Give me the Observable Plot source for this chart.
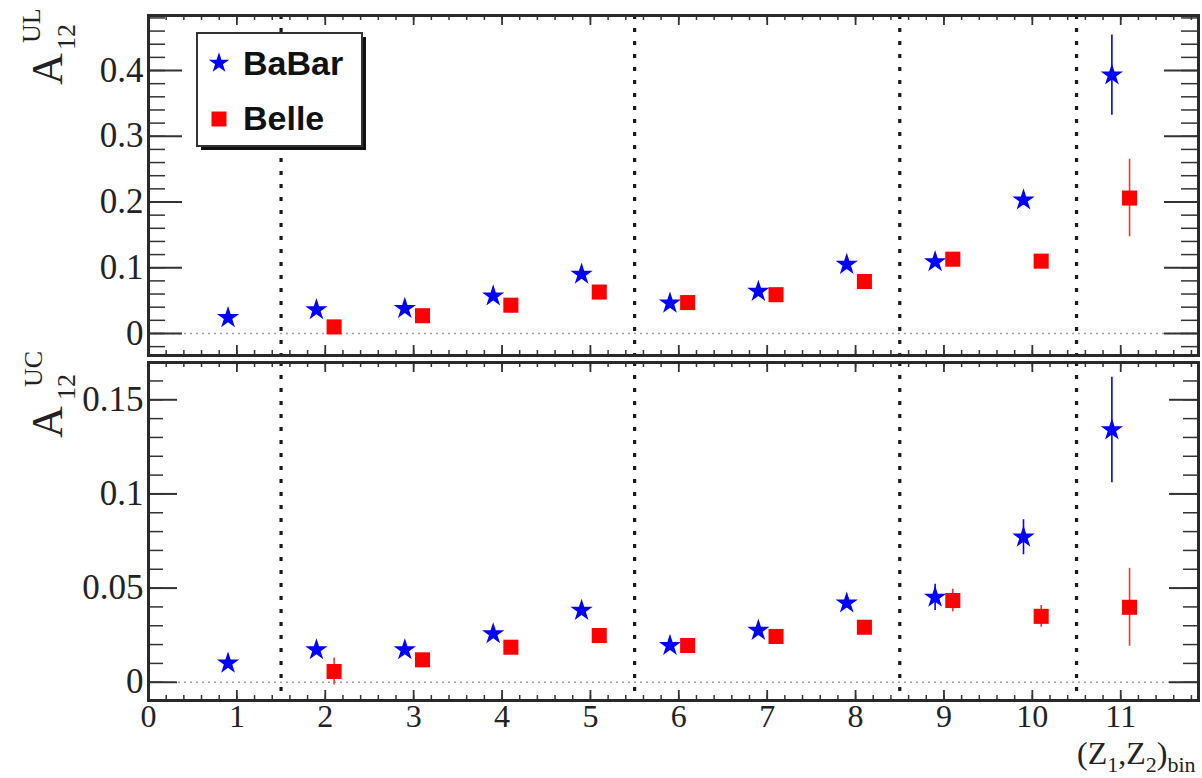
<!DOCTYPE html>
<html><head><meta charset="utf-8">
<script src="https://cdn.jsdelivr.net/npm/d3@7"></script>
<script src="https://cdn.jsdelivr.net/npm/@observablehq/plot@0.6"></script>
<style>
html,body{margin:0;padding:0;background:#fff;}
#chart{position:relative;width:1202px;height:778px;overflow:hidden;background:#fff;}
#chart > svg{position:absolute;left:0;}
</style></head>
<body><div id="chart"></div>
<script>
// ---- data ----
const bins = [1, 2, 3, 4, 5, 6, 7, 8, 9, 10, 11];
const babarUL    = [0.024, 0.036, 0.038, 0.057, 0.090, 0.046, 0.064, 0.105, 0.109, 0.203, 0.393];
const babarULerr = [0.003, 0.003, 0.003, 0.003, 0.004, 0.003, 0.003, 0.004, 0.005, 0.008, 0.061];
const belleUL    = [null, 0.010, 0.027, 0.043, 0.063, 0.047, 0.059, 0.079, 0.113, 0.110, 0.206];
const belleULerr = [null, 0.008, 0.004, 0.004, 0.004, 0.004, 0.004, 0.005, 0.008, 0.008, 0.059];
const babarUC    = [0.0101, 0.0172, 0.0172, 0.0257, 0.0381, 0.0195, 0.0275, 0.0420, 0.0451, 0.0770, 0.1340];
const babarUCerr = [0.0015, 0.0020, 0.0020, 0.0020, 0.0025, 0.0020, 0.0020, 0.0025, 0.0070, 0.0093, 0.0280];
const belleUC    = [null, 0.0057, 0.0119, 0.0186, 0.0248, 0.0195, 0.0243, 0.0292, 0.0434, 0.0350, 0.0398];
const belleUCerr = [null, 0.0072, 0.0020, 0.0020, 0.0020, 0.0020, 0.0020, 0.0020, 0.0060, 0.0058, 0.0207];
const separators = [1.5, 5.5, 8.5, 10.5];
const xTickLabels = [0, 1, 2, 3, 4, 5, 6, 7, 8, 9, 10, 11];
const yTickLabelsUL = [0, 0.1, 0.2, 0.3, 0.4];
const yTickLabelsUC = [0, 0.05, 0.1, 0.15];
const seriesNames = ["BaBar", "Belle"];

// ---- layout ----
const W = 1202, ML = 148, MR = 4;
const xDomain = [0, 11.88];
const xMinor = d3.range(0, 11.81, 0.2);
const chart = document.getElementById("chart");

function panel(cfg) {
  const innerW = W - ML - MR;
  const innerH = cfg.height - cfg.marginTop - cfg.marginBottom;
  const bab = bins.map((b, i) => ({x: b - 0.1, y: cfg.babar[i], e: cfg.babarErr[i]}));
  const bel = bins.map((b, i) => ({x: b + 0.1, y: cfg.belle[i], e: cfg.belleErr[i]})).filter(d => d.y != null);
  const tc = "#333";
  const marks = [
    Plot.ruleY([0], {stroke: "#a0a0a0", strokeWidth: 1.5, strokeDasharray: "2,4"}),
    Plot.ruleX(separators, {stroke: "#1a1a1a", strokeWidth: 3.2, strokeDasharray: "4,9"}),
    Plot.ruleX(bab, {x: "x", y1: d => d.y - d.e, y2: d => d.y + d.e, stroke: "#0000ff", strokeWidth: 1.6}),
    Plot.ruleX(bel, {x: "x", y1: d => d.y - d.e, y2: d => d.y + d.e, stroke: "#ff3030", strokeWidth: 1.6}),
    Plot.dot(bab, {x: "x", y: "y", symbol: "star", r: 7, fill: "#0000ff"}),
    Plot.dot(bel, {x: "x", y: "y", symbol: "square", r: 8.5, fill: "#ff0000"}),
    Plot.ruleY(cfg.yMinor, {y: d => d, insetRight: innerW - cfg.minorLen, stroke: tc, strokeWidth: 1.5}),
    Plot.ruleY(cfg.yLabels, {y: d => d, insetRight: innerW - cfg.majorLen, stroke: tc, strokeWidth: 2}),
    Plot.ruleY(cfg.yMinor, {y: d => d, insetLeft: innerW - cfg.minorLen, stroke: tc, strokeWidth: 1.5}),
    Plot.ruleY(cfg.yLabels, {y: d => d, insetLeft: innerW - cfg.majorLen, stroke: tc, strokeWidth: 2}),
    Plot.ruleX(xMinor, {x: d => d, insetTop: innerH - 5, stroke: tc, strokeWidth: 1.5}),
    Plot.ruleX(xTickLabels, {x: d => d, insetTop: innerH - 10, stroke: tc, strokeWidth: 1.8}),
    Plot.ruleX(xMinor, {x: d => d, insetBottom: innerH - 5, stroke: tc, strokeWidth: 1.5}),
    Plot.ruleX(xTickLabels, {x: d => d, insetBottom: innerH - 10, stroke: tc, strokeWidth: 1.8}),
    Plot.frame({stroke: "#2a2a2a", strokeWidth: 3}),
    Plot.axisY(cfg.yLabels, {tickSize: 0, tickPadding: 5, fontSize: 35, label: null, tickFormat: d => String(d)})
  ];
  if (cfg.showX) {
    marks.push(Plot.axisX(xTickLabels, {tickSize: 0, tickPadding: 4, fontSize: 32, label: null, tickFormat: d => String(d)}));
  }
  const svg = Plot.plot({
    width: W, height: cfg.height,
    marginLeft: ML, marginRight: MR, marginTop: cfg.marginTop, marginBottom: cfg.marginBottom,
    x: {domain: xDomain, axis: cfg.showX ? undefined : null},
    y: {domain: cfg.yDomain},
    style: {fontFamily: "Liberation Serif", color: "#222", background: "transparent", overflow: "visible"},
    marks
  });
  svg.style.top = cfg.top + "px";
  chart.appendChild(svg);
  const g = d3.select(svg).append("g")
    .attr("transform", `translate(${cfg.lab.tx},${cfg.lab.ty}) rotate(-90)`)
    .attr("font-family", "Liberation Serif").attr("fill", "#222").attr("text-anchor", "start");
  g.append("text").attr("font-size", 44).text("A");
  g.append("text").attr("x", cfg.lab.supX).attr("y", cfg.lab.supY).attr("font-size", 26).text(cfg.lab.sup);
  g.append("text").attr("x", cfg.lab.subX).attr("y", 13).attr("font-size", 26).text("12");
  return svg;
}

const topSvg = panel({
  top: 0, height: 358, marginTop: 15, marginBottom: 3,
  yDomain: [-0.0335, 0.4837], yLabels: yTickLabelsUL, yMinor: d3.range(-0.02, 0.481, 0.02),
  majorLen: 34, minorLen: 17,
  babar: babarUL, babarErr: babarULerr, belle: belleUL, belleErr: belleULerr, showX: false,
  lab: {tx: 62, ty: 85, sup: "UL", supX: 42, supY: -22, subX: 35}
});
const bottomSvg = panel({
  top: 358, height: 420, marginTop: 4, marginBottom: 78,
  yDomain: [-0.0097, 0.1698], yLabels: yTickLabelsUC, yMinor: d3.range(-0.01, 0.1705, 0.01),
  majorLen: 29, minorLen: 15,
  babar: babarUC, babarErr: babarUCerr, belle: belleUC, belleErr: belleUCerr, showX: true,
  lab: {tx: 62, ty: 80, sup: "UC", supX: 51, supY: -20, subX: 38}
});

// x axis title (z1,z2)bin
const xt = d3.select(bottomSvg).append("text")
  .attr("x", 1077).attr("y", 406).attr("text-anchor", "start")
  .attr("font-family", "Liberation Serif").attr("fill", "#222").attr("font-size", 32);
xt.append("tspan").text("(Z");
xt.append("tspan").attr("font-size", 22).attr("dy", 8).text("1");
xt.append("tspan").attr("dy", -8).text(",Z");
xt.append("tspan").attr("font-size", 22).attr("dy", 8).text("2");
xt.append("tspan").attr("dy", -8).text(")");
xt.append("tspan").attr("font-size", 22).attr("dy", 8).text("bin");

// legend
const lg = d3.select(topSvg).append("g");
const bx = 197, by = 33, bw = 165, bh = 113;
lg.append("rect").attr("x", bx + 4).attr("y", by + 4).attr("width", bw).attr("height", bh).attr("fill", "#111");
lg.append("rect").attr("x", bx).attr("y", by).attr("width", bw).attr("height", bh).attr("fill", "#fff").attr("stroke", "#333").attr("stroke-width", 2);
lg.append("path").attr("transform", "translate(219,63)").attr("d", d3.symbol(d3.symbolStar, Math.PI * 42)()).attr("fill", "#0000ff");
lg.append("path").attr("transform", "translate(219,119)").attr("d", d3.symbol(d3.symbolSquare, 225)()).attr("fill", "#ff0000");
lg.selectAll("text.lt").data(seriesNames).join("text")
  .attr("x", 243).attr("y", (d, i) => i === 0 ? 75 : 130).attr("text-anchor", "start")
  .attr("font-family", "Liberation Sans").attr("font-weight", "bold").attr("font-size", 34).attr("fill", "#111")
  .text(d => d);
</script>
</body></html>
